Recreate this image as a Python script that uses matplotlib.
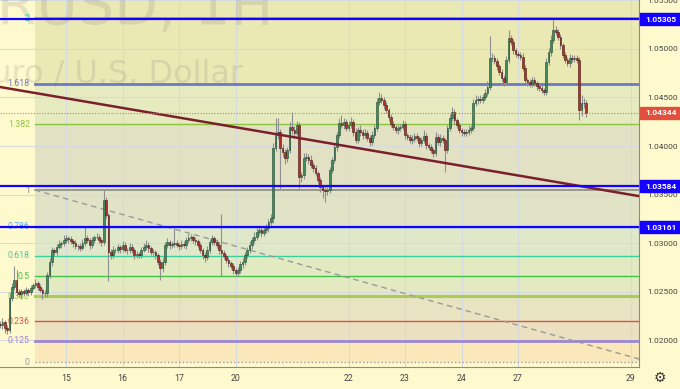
import numpy as np
import matplotlib
matplotlib.use('Agg')
import matplotlib.pyplot as plt
from matplotlib.patches import Rectangle

# EURUSD 1H closes, one per bar (bar 0 = first hour of the 14th)
closes = [
    1.02154, 1.02185, 1.02123, 1.02103, 1.02433, 1.02546, 1.02618, 1.02495, 1.02474, 1.02505,
    1.02484, 1.02515, 1.02495, 1.02536, 1.02567, 1.02587, 1.02546, 1.02515, 1.02484, 1.02484,
    1.02670, 1.02804, 1.02928, 1.02907, 1.02958, 1.02989, 1.03000, 1.03031, 1.03051, 1.03041,
    1.03020, 1.03000, 1.02969, 1.02969, 1.02948, 1.03000, 1.03051, 1.03031, 1.02979, 1.03031,
    1.03062, 1.03062, 1.03031, 1.03010, 1.03443, 1.03288, 1.02907, 1.02876, 1.02928, 1.02928,
    1.02958, 1.02938, 1.02979, 1.02928, 1.02928, 1.02958, 1.02928, 1.02876, 1.02886, 1.02876,
    1.02928, 1.02958, 1.02979, 1.02948, 1.02907, 1.02907, 1.02876, 1.02804, 1.02742, 1.02804,
    1.02979, 1.03010, 1.02979, 1.02989, 1.03000, 1.02979, 1.02969, 1.02989, 1.02979, 1.03031,
    1.03051, 1.03062, 1.03031, 1.03020, 1.02979, 1.02928, 1.02876, 1.02855, 1.02928, 1.03010,
    1.03051, 1.03010, 1.02979, 1.02928, 1.02897, 1.02866, 1.02824, 1.02793, 1.02763, 1.02721,
    1.02690, 1.02721, 1.02783, 1.02804, 1.02876, 1.02928, 1.02979, 1.03031, 1.03062, 1.03113,
    1.03134, 1.03103, 1.03134, 1.03154, 1.03216, 1.03257, 1.03979, 1.04113, 1.04144, 1.03979,
    1.03938, 1.03876, 1.03958, 1.04196, 1.04165, 1.04134, 1.04216, 1.03680, 1.03701, 1.03876,
    1.03886, 1.03855, 1.03804, 1.03773, 1.03721, 1.03649, 1.03577, 1.03546, 1.03536, 1.03546,
    1.03752, 1.03855, 1.03989, 1.04113, 1.04237, 1.04216, 1.04247, 1.04185, 1.04216, 1.04247,
    1.04144, 1.04062, 1.04165, 1.04144, 1.04113, 1.04134, 1.04082, 1.04041, 1.04113, 1.04185,
    1.04453, 1.04495, 1.04474, 1.04422, 1.04371, 1.04299, 1.04227, 1.04196, 1.04165, 1.04185,
    1.04196, 1.04227, 1.04113, 1.04093, 1.04062, 1.04072, 1.04103, 1.04082, 1.04031, 1.04062,
    1.04103, 1.04010, 1.03989, 1.03958, 1.03928, 1.04093, 1.04041, 1.04082, 1.04062, 1.03958,
    1.04185, 1.04288, 1.04350, 1.04268, 1.04216, 1.04165, 1.04144, 1.04134, 1.04144, 1.04165,
    1.04185, 1.04443, 1.04474, 1.04484, 1.04474, 1.04505, 1.04546, 1.04608, 1.04907, 1.04907,
    1.04876, 1.04825, 1.04763, 1.04701, 1.04660, 1.04886, 1.05113, 1.05072, 1.04990, 1.04948,
    1.04938, 1.04917, 1.04804, 1.04680, 1.04660, 1.04639, 1.04680, 1.04649, 1.04618, 1.04598,
    1.04577, 1.04557, 1.04866, 1.04969, 1.05093, 1.05196, 1.05175, 1.05124, 1.05041, 1.04938,
    1.04886, 1.04856, 1.04907, 1.04897, 1.04907, 1.04886, 1.04371, 1.04443, 1.04443, 1.04344,
]
first_open = 1.02170

# wick lengths beyond the body, in pips
wick_up = [
    3, 4, 2, 3, 5, 4, 15, 10, 3, 2,
    2, 3, 2, 3, 2, 4, 2, 3, 2, 3,
    3, 4, 3, 2, 3, 4, 2, 5, 3, 2,
    3, 2, 3, 2, 3, 4, 11, 3, 2, 3,
    2, 4, 3, 2, 10, 3, 2, 3, 4, 2,
    3, 2, 4, 3, 2, 4, 3, 2, 3, 2,
    3, 4, 5, 3, 2, 3, 2, 2, 3, 4,
    3, 4, 2, 3, 15, 3, 2, 4, 3, 3,
    4, 3, 2, 3, 2, 3, 2, 3, 4, 3,
    3, 2, 3, 3, 37, 3, 2, 3, 2, 3,
    2, 3, 3, 4, 3, 3, 4, 3, 5, 4,
    3, 3, 3, 4, 3, 4, 5, 18, 14, 3,
    4, 3, 3, 5, 15, 4, 4, 3, 3, 5,
    4, 3, 5, 3, 3, 2, 3, 2, 3, 3,
    3, 3, 3, 3, 5, 8, 4, 3, 4, 5,
    3, 4, 3, 5, 3, 4, 3, 3, 4, 3,
    4, 6, 4, 3, 3, 2, 3, 3, 2, 3,
    3, 4, 3, 2, 3, 4, 3, 3, 2, 3,
    6, 3, 2, 3, 2, 5, 3, 4, 3, 2,
    3, 4, 5, 3, 2, 3, 2, 3, 3, 4,
    3, 4, 5, 3, 4, 3, 4, 6, 23, 5,
    3, 3, 2, 3, 3, 4, 8, 3, 3, 2,
    3, 3, 4, 3, 2, 3, 3, 3, 2, 3,
    3, 2, 4, 4, 5, 10, 4, 3, 3, 2,
    3, 3, 4, 3, 3, 3, 3, 8, 5, 3,
]
wick_dn = [
    3, 4, 5, 4, 3, 3, 3, 4, 3, 5,
    3, 2, 4, 3, 2, 3, 3, 2, 6, 4,
    4, 3, 4, 3, 3, 2, 4, 3, 3, 4,
    3, 4, 3, 4, 3, 2, 3, 3, 4, 3,
    3, 2, 3, 4, 3, 3, 30, 4, 3, 3,
    3, 4, 3, 2, 4, 3, 3, 4, 3, 3,
    3, 2, 3, 4, 3, 3, 4, 3, 12, 4,
    3, 3, 4, 3, 3, 2, 4, 3, 3, 4,
    3, 3, 3, 4, 3, 3, 4, 5, 3, 3,
    3, 3, 3, 4, 24, 3, 3, 4, 3, 4,
    3, 3, 3, 4, 3, 3, 3, 4, 3, 3,
    3, 4, 3, 3, 4, 3, 5, 3, 4, 42,
    5, 6, 4, 3, 4, 3, 3, 11, 5, 4,
    3, 4, 3, 4, 3, 4, 5, 8, 11, 4,
    3, 3, 3, 4, 3, 3, 4, 3, 3, 3,
    4, 3, 3, 4, 4, 3, 3, 4, 3, 3,
    3, 3, 3, 4, 3, 4, 3, 3, 3, 4,
    3, 3, 4, 3, 3, 4, 3, 3, 4, 3,
    3, 4, 3, 3, 4, 3, 3, 4, 3, 23,
    3, 3, 3, 4, 3, 3, 4, 3, 3, 3,
    3, 3, 3, 4, 3, 3, 3, 3, 3, 4,
    3, 4, 3, 3, 4, 3, 3, 3, 4, 3,
    3, 3, 3, 3, 4, 3, 3, 3, 4, 3,
    3, 3, 3, 3, 4, 3, 3, 3, 4, 3,
    3, 3, 4, 3, 3, 3, 10, 6, 5, 4,
]
first_bar = -4

# x axis: trading-day labels and their bar index
day_labels = ['15', '16', '17', '20', '22', '23', '24', '27', '29']
day_bars = [24, 48, 72, 96, 144, 168, 192, 216, 264]

price_ticks = [1.020, 1.025, 1.030, 1.035, 1.040, 1.045, 1.050, 1.055]

# horizontal levels with axis tags
blue_levels = [1.05305, 1.03584, 1.03161]
last_price = 1.04344

# fibonacci retracement anchors (bar, price)
fib_start = (10.8, 1.03546)
fib_end = (272.0, 1.01773)
fib_ratios = [0, 0.125, 0.236, 0.382, 0.5, 0.618, 0.786, 1, 1.382, 1.618, 2, 2.618]
fib_labels = ['0', '0.125', '0.236', '0.382', '0.5', '0.618', '0.786', '1', '1.382', '1.618', '2', '']
fib_colors = ['#9a9a9a', '#9c86d0', '#e0504a', '#a9cc5a', '#44c24a', '#3ccf9e', '#5aa8ee',
              '#8a8a8a', '#8cc63f', '#6f78c6', '#3cbf9a', '#3cbf9a']
fib_widths = [1.0, 2.0, 1.0, 2.2, 1.0, 1.0, 1.0, 1.2, 1.0, 2.0, 1.2, 1.0]
zone_colors = ['#fbe8ba', '#ebe0bf', '#e8e3c0', '#e3e9c0', '#e2eac2', '#dfe8c8', '#e1e3c6',
               '#e3e1c4', '#e6ebbf', '#ebe9b3', '#ebe9b3']

# trend line anchors (bar, price)
trend = [(-4.0, 1.04608), (267.0, 1.03485)]

bg = '#fffacd'
fig = plt.figure(figsize=(6.8, 3.89), dpi=100, facecolor=bg)
ax = fig.add_axes([0, 22 / 389, 639 / 680, 367 / 389])
ax.set_facecolor(bg)
xmin, xmax = -4.04, 267.4
ax.set_xlim(xmin, xmax)
ax.set_ylim(1.01722, 1.05505)

# fib zones and lines
lo, hi = fib_end[1], fib_start[1]
lvl = [lo + r * (hi - lo) for r in fib_ratios]
for k in range(len(lvl) - 1):
    ax.fill_between([fib_start[0], xmax], lvl[k], lvl[k + 1], color=zone_colors[k], lw=0, zorder=1)
for k, p in enumerate(lvl):
    ls = ':' if k == 0 else '-'
    ax.plot([fib_start[0], xmax], [p, p], color=fib_colors[k], lw=fib_widths[k], ls=ls, zorder=2)
    if fib_labels[k]:
        ax.text(fib_start[0] - 2.2, p, fib_labels[k], color=fib_colors[k], fontsize=6.3,
                family='Roboto', ha='right', va='center', zorder=2)
ax.plot([fib_start[0], fib_end[0]], [fib_start[1], fib_end[1]], color='#9a9a9a', lw=1,
        dashes=(4, 3), zorder=2)

# grid
for p in price_ticks:
    ax.axhline(p, color='#d5dade', lw=0.8, zorder=1.5)
for b in day_bars:
    ax.axvline(b, color='#d5dade', lw=0.8, zorder=1.5)

# watermark
ax.text(273 / 680, 1 - 25 / 389, 'EURUSD, 1H', transform=fig.transFigure, ha='right',
        va='baseline', fontsize=41, family='DejaVu Sans', color='#7a7a7a', alpha=0.18, zorder=1.6)
ax.text(243 / 680, 1 - 82 / 389, 'Euro / U.S. Dollar', transform=fig.transFigure, ha='right',
        va='baseline', fontsize=23, family='DejaVu Sans', color='#7a7a7a', alpha=0.18, zorder=1.6)

# candles
c = np.array(closes)
o = np.r_[first_open, c[:-1]]
bars = np.arange(first_bar, first_bar + len(c))
h = np.maximum(o, c) + np.array(wick_up) * 1e-4
l = np.minimum(o, c) - np.array(wick_dn) * 1e-4
up = c >= o
ax.vlines(bars, l, h, color='#8f8f8f', lw=0.8, zorder=3)
ax.bar(bars[up], (c - o)[up], bottom=o[up], width=0.72, color='#3f8c5e', edgecolor='#1f4a30',
       lw=0.4, zorder=3.5)
ax.bar(bars[~up], (c - o)[~up], bottom=o[~up], width=0.72, color='#b3302c', edgecolor='#4a1410',
       lw=0.4, zorder=3.5)

# trend line
ax.plot([trend[0][0], trend[1][0]], [trend[0][1], trend[1][1]], color='#7a1f2b', lw=1.8, zorder=4)

# horizontal levels
for p in blue_levels:
    ax.axhline(p, color='#1400ff', lw=1.6, zorder=4.5)
ax.axhline(last_price, color='#e07060', lw=0.8, ls=(0, (1, 1.5)), zorder=4.5)

# axes styling
for s in ['left', 'top']:
    ax.spines[s].set_visible(False)
ax.spines['right'].set_color('#8a8a8a')
ax.spines['bottom'].set_color('#8a8a8a')
ax.yaxis.tick_right()
ax.set_yticks(price_ticks)
ax.set_yticklabels([f'{p:.5f}' for p in price_ticks])
ax.set_xticks(day_bars)
ax.set_xticklabels(day_labels)
ax.tick_params(axis='y', length=0, pad=6, labelsize=6, labelcolor='#444444')
ax.tick_params(axis='x', length=0, pad=5, labelsize=6.3, labelcolor='#444444')
for t in ax.get_yticklabels() + ax.get_xticklabels():
    t.set_family('Roboto')

# price tags on the axis
ytr = ax.get_yaxis_transform()
tags = [(p, '#1400ff') for p in blue_levels] + [(last_price, '#e0503c')]
for p, col in tags:
    ax.add_patch(Rectangle((1.0016, p - 0.00062), 0.07, 0.00124, transform=ytr, color=col,
                           clip_on=False, zorder=6))
    ax.text(1.0105, p, f'{p:.5f}', transform=ytr, ha='left', va='center', fontsize=6,
            fontweight='bold', color='white', family='Roboto', clip_on=False, zorder=7)

fig.text(660 / 680, 1 - 378 / 389, '\u2699', ha='center', va='center', fontsize=10,
         color='#333333', family='DejaVu Sans')

fig.savefig('out.png', dpi=100, facecolor=bg)
